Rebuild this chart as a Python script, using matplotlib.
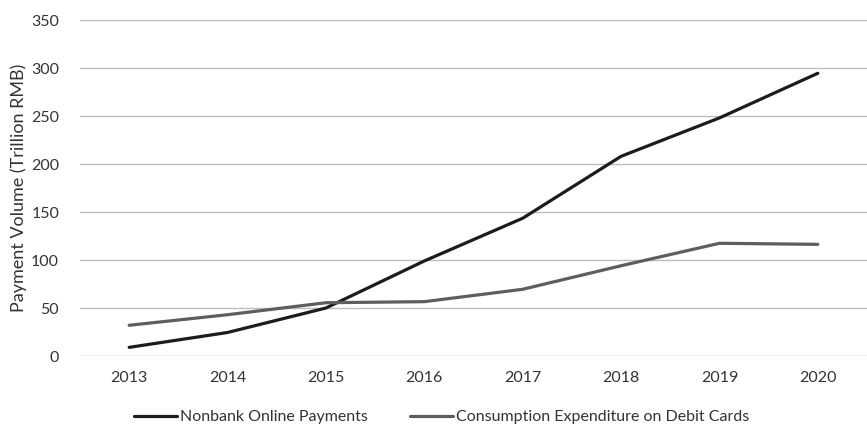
import matplotlib.pyplot as plt

years = ['2013', '2014', '2015', '2016', '2017', '2018', '2019', '2020']
nonbank = [9, 24.5, 50, 99, 143.5, 208, 248, 294.5]
debit = [32, 43, 55.5, 56.6, 69.5, 94, 117.4, 116.3]

plt.rcParams['font.family'] = ['Lato', 'DejaVu Sans']

fig = plt.figure(figsize=(8.67, 4.26), dpi=100)
ax = fig.add_axes([80 / 867, 1 - 356 / 426, 787 / 867, 336 / 426])

x = range(len(years))
ax.plot(x, nonbank, color='#1c1c1c', lw=2.3, solid_capstyle='round', label='Nonbank Online Payments')
ax.plot(x, debit, color='#5e5e5e', lw=2.3, solid_capstyle='round', label='Consumption Expenditure on Debit Cards')

ax.set_xlim(-0.5, len(years) - 0.5)
ax.set_ylim(0, 350)
ax.set_yticks(range(0, 351, 50))
ax.set_xticks(list(x))
ax.set_xticklabels(years)
ax.grid(axis='y', color='#bdbdbd', lw=1)
ax.set_axisbelow(True)
for s in ax.spines.values():
    s.set_visible(False)
ax.tick_params(length=0, labelsize=11.5, colors='#333333', pad=15)
ax.tick_params(axis='x', pad=11)
ax.set_ylabel('Payment Volume (Trillion RMB)', fontsize=13, color='#333333')
ax.yaxis.set_label_coords(-53 / 787, 0.5)

fig.legend(loc='center', bbox_to_anchor=(441.5 / 867, 1 - 417 / 426), ncol=2, frameon=False,
           fontsize=11.5, handlelength=2.7, handletextpad=0.2, columnspacing=2.6, labelcolor='#333333')

fig.savefig('out.png', dpi=100)
